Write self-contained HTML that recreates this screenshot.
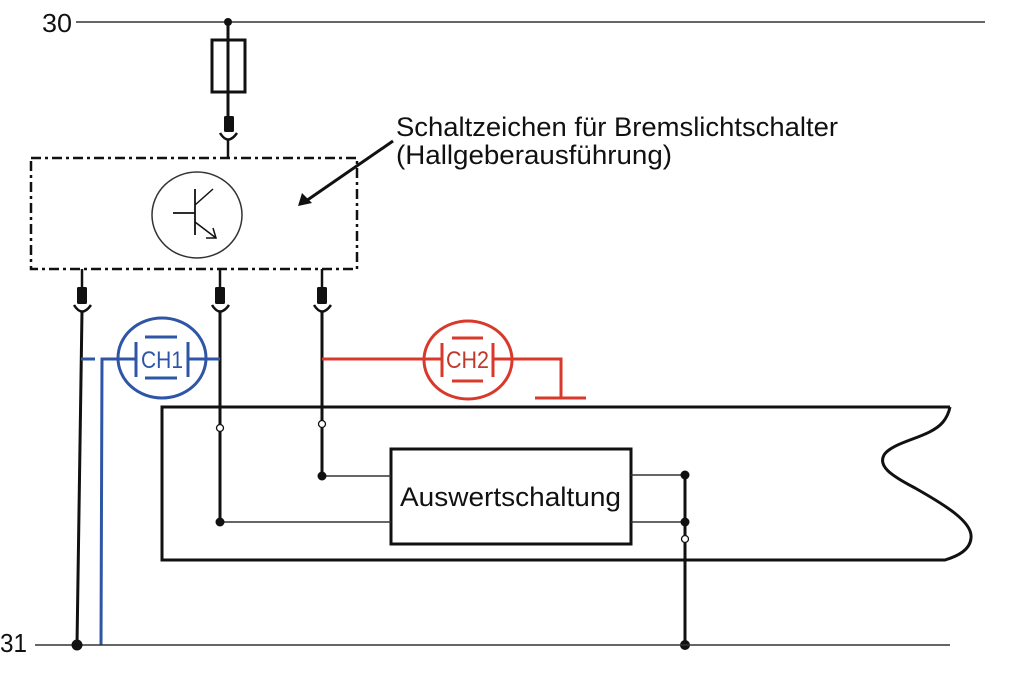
<!DOCTYPE html>
<html>
<head>
<meta charset="utf-8">
<style>
html,body{margin:0;padding:0;background:#fff;}
svg{display:block;}
text{font-family:"Liberation Sans",sans-serif;}
</style>
</head>
<body>
<svg width="1024" height="696" viewBox="0 0 1024 696" xmlns="http://www.w3.org/2000/svg">
<rect width="1024" height="696" fill="#fff"/>

<!-- Rail 30 -->
<text x="42" y="32" font-size="26" fill="#111" textLength="30" lengthAdjust="spacingAndGlyphs">30</text>
<line x1="76" y1="22" x2="985" y2="22" stroke="#333" stroke-width="1.5"/>
<circle cx="228" cy="22" r="4" fill="#111"/>

<!-- Fuse -->
<line x1="228" y1="22" x2="228" y2="118" stroke="#111" stroke-width="3"/>
<rect x="212" y="40" width="33" height="52" fill="none" stroke="#111" stroke-width="3"/>
<!-- top connector -->
<rect x="224" y="116" width="10" height="16" rx="1.5" fill="#111"/>
<path d="M220,133 Q228,146 237,133" fill="none" stroke="#111" stroke-width="2.5"/>
<line x1="228" y1="139" x2="228" y2="158" stroke="#111" stroke-width="2.5"/>

<!-- Dash-dot box -->
<rect x="31" y="158" width="326" height="111" fill="none" stroke="#111" stroke-width="2.5" stroke-dasharray="10,4,3,4"/>

<!-- Transistor -->
<ellipse cx="197" cy="215" rx="45" ry="43" fill="none" stroke="#333" stroke-width="1.5"/>
<line x1="195" y1="189" x2="195" y2="235" stroke="#111" stroke-width="1.8"/>
<line x1="173" y1="213" x2="195" y2="213" stroke="#111" stroke-width="1.8"/>
<line x1="195" y1="205" x2="213" y2="189" stroke="#111" stroke-width="1.5"/>
<line x1="195" y1="222" x2="216" y2="238" stroke="#111" stroke-width="1.5"/>
<polyline points="206,238 216,238 213,228" fill="none" stroke="#111" stroke-width="1.5"/>

<!-- Label + arrow -->
<line x1="393" y1="141" x2="306" y2="201" stroke="#111" stroke-width="3"/>
<polygon points="298,206 302,193 312,203" fill="#111"/>
<text x="396" y="136" font-size="27" fill="#111" textLength="442" lengthAdjust="spacingAndGlyphs">Schaltzeichen für Bremslichtschalter</text>
<text x="396" y="164" font-size="27" fill="#111" textLength="276" lengthAdjust="spacingAndGlyphs">(Hallgeberausführung)</text>

<!-- Bottom connectors -->
<g stroke="#111" fill="none">
  <line x1="82" y1="269" x2="82" y2="288" stroke-width="2.5"/>
  <line x1="220" y1="269" x2="220" y2="288" stroke-width="2.5"/>
  <line x1="322" y1="269" x2="322" y2="288" stroke-width="2.5"/>
  <path d="M74,305 Q82,318 91,305" stroke-width="2.5"/>
  <path d="M212,305 Q220,318 229,305" stroke-width="2.5"/>
  <path d="M314,305 Q322,318 331,305" stroke-width="2.5"/>
</g>
<rect x="77" y="287" width="10" height="17" rx="1.5" fill="#111"/>
<rect x="215" y="287" width="10" height="17" rx="1.5" fill="#111"/>
<rect x="317" y="287" width="10" height="17" rx="1.5" fill="#111"/>

<!-- Vertical wires -->
<line x1="82" y1="311" x2="77" y2="645" stroke="#111" stroke-width="3"/>
<line x1="220" y1="311" x2="220" y2="522" stroke="#111" stroke-width="3"/>
<line x1="322" y1="311" x2="322" y2="476" stroke="#111" stroke-width="3"/>

<!-- Blue CH1 -->
<g stroke="#2f56a6" fill="none" stroke-width="3">
  <line x1="81" y1="359" x2="95" y2="359"/>
  <polyline points="101,645 102,359 136,359"/>
  <line x1="188" y1="359" x2="220" y2="359"/>
  <ellipse cx="162" cy="358" rx="44" ry="40"/>
  <line x1="136" y1="342" x2="136" y2="377"/>
  <line x1="188" y1="342" x2="188" y2="377"/>
  <line x1="145" y1="337" x2="177" y2="337"/>
  <line x1="145" y1="378" x2="177" y2="378"/>
</g>
<text x="141" y="368" font-size="24" fill="#2f56a6" textLength="42" lengthAdjust="spacingAndGlyphs">CH1</text>

<!-- Red CH2 -->
<g stroke="#d8392b" fill="none" stroke-width="3">
  <line x1="322" y1="359" x2="442" y2="359"/>
  <ellipse cx="468" cy="360" rx="44" ry="39"/>
  <line x1="442" y1="343" x2="442" y2="377"/>
  <line x1="493" y1="343" x2="493" y2="377"/>
  <line x1="452" y1="338" x2="483" y2="338"/>
  <line x1="452" y1="381" x2="483" y2="381"/>
  <polyline points="493,359 561,359 561,398"/>
  <line x1="535" y1="398" x2="586" y2="398"/>
</g>
<text x="446" y="368" font-size="24" fill="#c0392b" textLength="43" lengthAdjust="spacingAndGlyphs">CH2</text>

<!-- Large housing -->
<path d="M950,407 L162,407 L162,560 L945,560 C958,556 970,550 971,538 C973,522 945,505 915,488 C890,475 878,466 884,455 C893,441 930,438 943,422 C947,417 949,412 950,407" fill="none" stroke="#111" stroke-width="3"/>

<!-- Evaluation box -->
<rect x="391" y="449" width="240" height="95" fill="#fff" stroke="#111" stroke-width="3"/>
<text x="400" y="506" font-size="27" fill="#111" textLength="221" lengthAdjust="spacingAndGlyphs">Auswertschaltung</text>

<!-- thin connections -->
<g stroke="#333" stroke-width="1.5">
  <line x1="322" y1="476" x2="391" y2="476"/>
  <line x1="220" y1="522" x2="391" y2="522"/>
  <line x1="631" y1="475" x2="685" y2="475"/>
  <line x1="631" y1="522" x2="685" y2="522"/>
</g>
<line x1="685" y1="475" x2="685" y2="645" stroke="#111" stroke-width="3"/>

<!-- dots -->
<circle cx="322" cy="476" r="4.5" fill="#111"/>
<circle cx="220" cy="522" r="4.5" fill="#111"/>
<circle cx="685" cy="475" r="4.5" fill="#111"/>
<circle cx="685" cy="522" r="4.5" fill="#111"/>
<circle cx="685" cy="645" r="5" fill="#111"/>

<!-- open circles -->
<circle cx="220" cy="428" r="3.5" fill="#fff" stroke="#111" stroke-width="1.3"/>
<circle cx="322" cy="424" r="3.5" fill="#fff" stroke="#111" stroke-width="1.3"/>
<circle cx="685" cy="539" r="3.5" fill="#fff" stroke="#111" stroke-width="1.3"/>

<!-- Rail 31 -->
<text x="0" y="652" font-size="26" fill="#111" textLength="27" lengthAdjust="spacingAndGlyphs">31</text>
<line x1="35" y1="645" x2="950" y2="645" stroke="#333" stroke-width="1.5"/>
<circle cx="77" cy="645" r="5.5" fill="#111"/>
</svg>
</body>
</html>
